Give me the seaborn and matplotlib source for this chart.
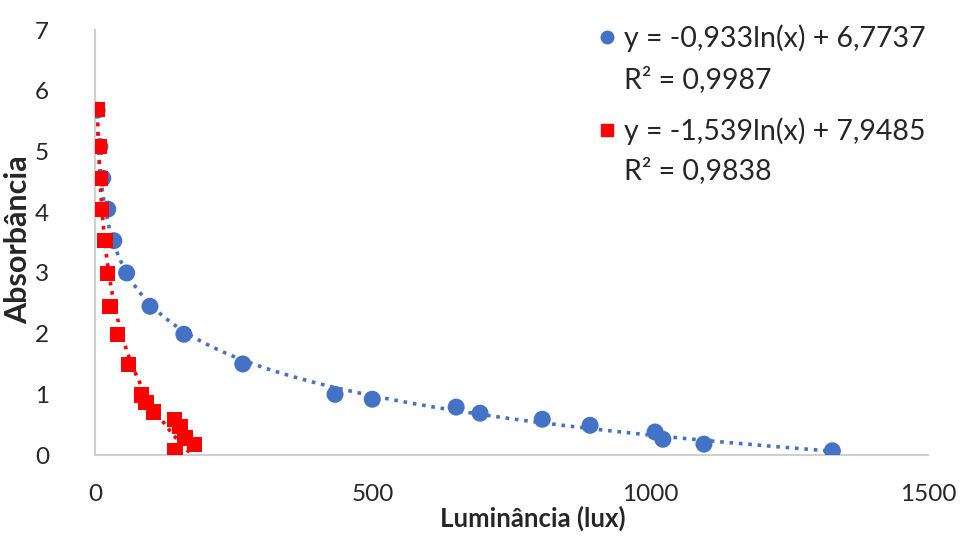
import numpy as np
import pandas as pd
import seaborn as sns
import matplotlib.pyplot as plt
from matplotlib.lines import Line2D

# Luminance (lux) and absorbance readings for the two series
blue_lux = [4, 9, 14, 23, 34, 57, 99, 160, 266, 432, 499, 650, 693, 805, 891, 1008, 1022, 1096, 1327]
blue_abs = [5.68, 5.08, 4.56, 4.05, 3.53, 3.00, 2.45, 1.99, 1.50, 1.00, 0.92, 0.79, 0.69, 0.59, 0.49, 0.38, 0.26, 0.18, 0.07]

red_lux = [5, 8, 9, 11, 18, 23, 27, 40, 61, 84, 92, 106, 143, 153, 162, 179, 144]
red_abs = [5.69, 5.08, 4.56, 4.05, 3.53, 2.99, 2.45, 1.99, 1.49, 0.99, 0.86, 0.71, 0.58, 0.47, 0.28, 0.18, 0.08]

# Logarithmic trendline coefficients: y = a*ln(x) + b
blue_fit = (-0.933, 6.7737)
blue_r2 = 0.9987
red_fit = (-1.539, 7.9485)
red_r2 = 0.9838

BLUE = "#4472C4"
RED = "#FF0000"
TEXT = "#262626"

sns.set_theme(style="white")
plt.rcParams["font.family"] = ["Lato", "DejaVu Sans"]

df = pd.concat([
    pd.DataFrame({"lux": blue_lux, "abs": blue_abs, "serie": "azul"}),
    pd.DataFrame({"lux": red_lux, "abs": red_abs, "serie": "vermelho"}),
])

fig = plt.figure(figsize=(9.76, 5.36), dpi=100)
ax = fig.add_axes([0.0973, 0.151, 0.854, 0.793])

sns.scatterplot(data=df[df.serie == "azul"], x="lux", y="abs", color=BLUE,
                marker="o", s=150, edgecolor="none", ax=ax, zorder=3)
sns.scatterplot(data=df[df.serie == "vermelho"], x="lux", y="abs", color=RED,
                marker="s", s=120, edgecolor="none", ax=ax, zorder=3)


def trend(xs, fit):
    xx = np.linspace(min(xs), max(xs), 400)
    return xx, fit[0] * np.log(xx) + fit[1]


bx, by = trend(blue_lux, blue_fit)
ax.plot(bx, by, linestyle=(0, (1, 1.6)), color=BLUE, lw=2.6, zorder=2)
rx, ry = trend(red_lux, red_fit)
ax.plot(rx, ry, linestyle=(0, (1, 1.6)), color=RED, lw=2.6, zorder=2)

ax.set_xlim(0, 1500)
ax.set_ylim(0, 7)
ax.set_xticks([0, 500, 1000, 1500])
ax.set_yticks(range(0, 8))
ax.tick_params(axis="both", length=0, labelsize=17.5, colors=TEXT)
ax.tick_params(axis="y", pad=33)
ax.tick_params(axis="x", pad=21)

for side in ["top", "right"]:
    ax.spines[side].set_visible(False)
for side in ["left", "bottom"]:
    ax.spines[side].set_color("#D0D0D0")
    ax.spines[side].set_linewidth(1.5)

ax.set_xlabel("Luminância (lux)", fontsize=18.5, fontweight="bold", color=TEXT)
ax.xaxis.set_label_coords(0.525, -0.118)
ax.set_ylabel("Absorbância", fontsize=22, fontweight="bold", color=TEXT)
ax.yaxis.set_label_coords(-0.075, 0.506)


def equation_lines(fit, r2):
    a, b = fit
    sign = "+" if b >= 0 else "-"
    eq = f"y = {a:.3f}ln(x) {sign} {abs(b):.4f}".replace(".", ",")
    r = f"R² = {r2:.4f}".replace(".", ",")
    return eq, r


def legend_for(marker, color, fit, r2, top, spacing):
    h = Line2D([], [], linestyle="none", marker=marker, color=color, markersize=9)
    blank = Line2D([], [], linestyle="none")
    leg = fig.legend([h, blank], list(equation_lines(fit, r2)), loc="upper left",
                     bbox_to_anchor=(0.612, top), frameon=False, fontsize=20.5,
                     handlelength=0.7, handletextpad=0.22, labelspacing=spacing,
                     borderaxespad=0, borderpad=0, labelcolor=TEXT)
    return leg


legend_for("o", BLUE, blue_fit, blue_r2, 0.955, 0.52)
legend_for("s", RED, red_fit, red_r2, 0.781, 0.42)

fig.savefig("out.png", dpi=100)
